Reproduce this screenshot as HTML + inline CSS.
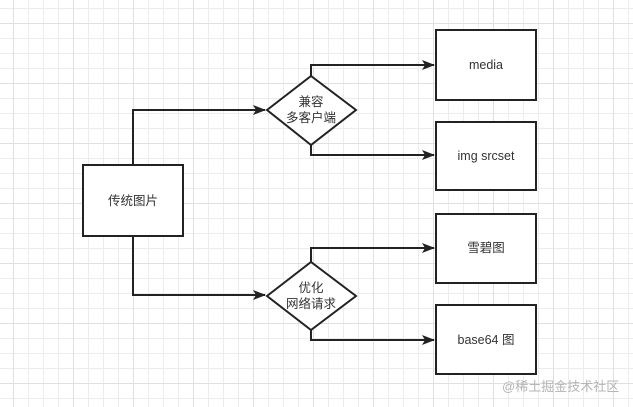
<!DOCTYPE html>
<html><head><meta charset="utf-8"><style>
html,body{margin:0;padding:0;background:#fff}
svg{display:block}
text{font-family:"Liberation Sans","Noto Sans CJK SC",sans-serif;font-size:12.5px;fill:#333}
</style></head><body>
<svg width="633" height="407" viewBox="0 0 633 407" xmlns="http://www.w3.org/2000/svg">
<defs>
<pattern id="g" x="13" y="8" width="15" height="15" patternUnits="userSpaceOnUse">
<path d="M0 0.5H15M0.5 0V15" stroke="#ececec" stroke-width="1" fill="none"/>
</pattern>
<pattern id="G" x="13" y="23" width="60" height="60" patternUnits="userSpaceOnUse">
<path d="M0 0.5H60M0.5 0V60" stroke="#e0e0e0" stroke-width="1" fill="none"/>
</pattern>
<marker id="a" markerWidth="13" markerHeight="10" refX="12" refY="5" orient="auto" markerUnits="userSpaceOnUse">
<path d="M0 0L13 5L0 10L3 5Z" fill="#222"/>
</marker>
</defs>
<rect width="633" height="407" fill="url(#g)"/>
<rect width="633" height="407" fill="url(#G)"/>
<g stroke="#222" stroke-width="2" fill="none">
<path d="M133 165V110H265" marker-end="url(#a)"/>
<path d="M133 236V295H265" marker-end="url(#a)"/>
<path d="M311 76V65H434" marker-end="url(#a)"/>
<path d="M311 145V155H434" marker-end="url(#a)"/>
<path d="M311 262V248H434" marker-end="url(#a)"/>
<path d="M311 330V340H434" marker-end="url(#a)"/>
</g>
<g stroke="#222" stroke-width="2" fill="#fff">
<rect x="83" y="165" width="100" height="71"/>
<path d="M267 110L311 76L356 110L311 145Z"/>
<path d="M267 296L311 262L356 296L311 330Z"/>
<rect x="436" y="30" width="100" height="70"/>
<rect x="436" y="122" width="100" height="68"/>
<rect x="436" y="214" width="100" height="69"/>
<rect x="436" y="305" width="100" height="69"/>
</g>
<g text-anchor="middle">
<text x="133" y="205">传统图片</text>
<text x="311" y="106">兼容</text>
<text x="311" y="122">多客户端</text>
<text x="311" y="292">优化</text>
<text x="311" y="308">网络请求</text>
<text x="486" y="69">media</text>
<text x="486" y="160">img srcset</text>
<text x="486" y="252">雪碧图</text>
<text x="486" y="344">base64 图</text>
</g>
<text x="502" y="391" style="font-size:13px;fill:#b5b5b5">@稀土掘金技术社区</text>
</svg>
</body></html>
